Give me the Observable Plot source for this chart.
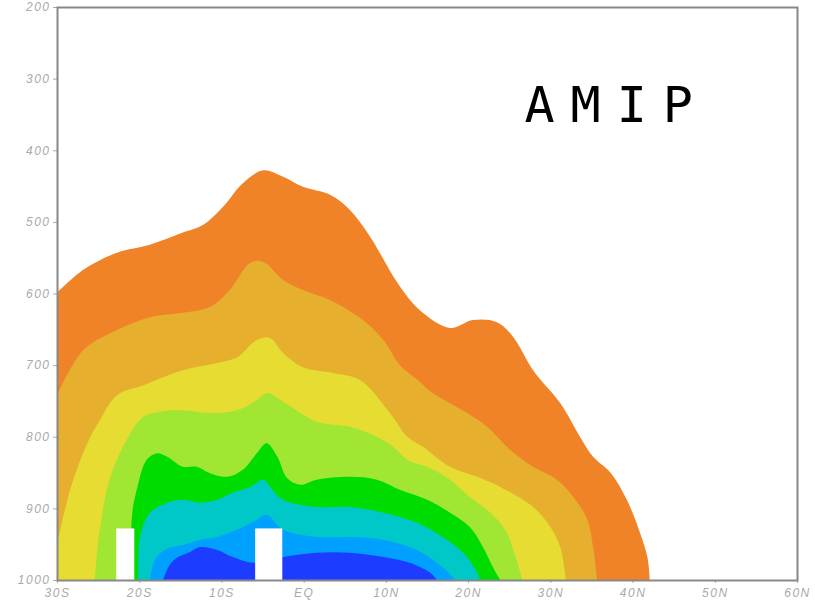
<!DOCTYPE html>
<html>
<head>
<meta charset="utf-8">
<script src="https://cdn.jsdelivr.net/npm/d3@7"></script>
<script src="https://cdn.jsdelivr.net/npm/@observablehq/plot@0.6"></script>
<style>
  html, body { margin: 0; padding: 0; background: #fff; }
  #chart svg g[aria-label="x-axis tick label"] text,
  #chart svg g[aria-label="y-axis tick label"] text { letter-spacing: 1.5px; }
  #chart svg .amip text { letter-spacing: 16px; }
</style>
</head>
<body>
<div id="chart"></div>
<script>
// Axis ticks
const latTicks = [-30, -20, -10, 0, 10, 20, 30, 40, 50, 60];
const latLabels = ["30S", "20S", "10S", "EQ", "10N", "20N", "30N", "40N", "50N", "60N"];
const pTicks = [200, 300, 400, 500, 600, 700, 800, 900, 1000];

// Upper boundary of each shaded level, [latitude, pressure hPa]
const orangeTop = [[-30,599],[-26.8,567],[-22.7,543],[-18.7,532],[-14.7,515],[-12.2,504],[-9.8,479],[-7.4,446],[-4.9,428],[-2.5,437],[-0.1,451],[3.2,462],[5.6,483],[8.1,521],[11.4,585],[14.1,623],[17.8,648],[20.6,637],[23.5,640],[25.5,661],[27.9,707],[31.2,753],[33.6,800],[35.2,828],[37.3,850],[39.3,888],[40.9,934],[41.8,968],[42.1,1000]];
const goldTop = [[-30,742],[-26.8,679],[-22.7,651],[-18.7,633],[-14.7,627],[-11.4,619],[-9,595],[-6.5,557],[-4.9,556],[-2.5,581],[-0.1,595],[3.2,609],[7.2,637],[9.7,665],[11.7,700],[13.8,720],[15.7,739],[19.9,767],[22.3,786],[25.1,818],[27.9,842],[30.8,860],[32.8,884],[34.5,916],[35.2,954],[35.7,1000]];
const yellowTop = [[-30,951],[-28.4,874],[-26.4,811],[-24.8,777],[-22.7,742],[-19.5,728],[-14.7,707],[-10.5,697],[-8.1,689],[-5.7,665],[-4.1,662],[-2.5,683],[-0.1,703],[3.6,711],[6.9,721],[10.5,767],[12.6,800],[14.5,814],[17.8,842],[21.1,856],[23.9,870],[27.9,898],[30,926],[31.2,954],[31.9,1000]];
const yelgreenTop = [[-25.4,1000],[-24.8,930],[-23.6,860],[-21.5,804],[-19.5,772],[-17.5,765],[-14.7,763],[-11.4,767],[-8.1,763],[-5.7,749],[-4.5,739],[-2.5,751],[1.6,779],[5.6,786],[8.9,800],[10.9,814],[12.6,832],[15,842],[17.8,860],[20.2,884],[22.7,906],[24.5,930],[25.7,965],[26.6,1000]];
const greenTop = [[-20.8,1000],[-21,944],[-20.8,902],[-20.3,874],[-19.1,832],[-17.8,823],[-16.6,828],[-14.7,842],[-13,842],[-11.4,851],[-9.3,856],[-7.4,846],[-5.7,823],[-4.5,809],[-3.2,828],[-2,858],[-0.4,867],[1.6,860],[5.6,856],[8.9,860],[11.7,874],[15,888],[17.8,906],[20.2,926],[21.8,954],[23,982],[23.9,1000]];
const cyanTop = [[-20.1,1000],[-19.9,940],[-18.7,906],[-16.6,892],[-14.7,888],[-12.6,892],[-10.5,888],[-8.6,878],[-6.5,870],[-4.9,860],[-4.1,870],[-2.5,888],[1.6,898],[5.6,898],[9.7,906],[13.8,920],[16.9,940],[19.4,962],[21.1,990],[21.4,1000]];
const lightblueTop = [[-18.7,1000],[-18.1,972],[-16.9,958],[-14.7,951],[-12.6,944],[-10.5,940],[-8.1,930],[-5.7,916],[-4.5,909],[-2.5,930],[1.6,940],[5.6,940],[9.7,944],[13.8,958],[16.2,976],[17.6,990],[18.4,1000]];
const blueTop = [[-17.1,1000],[-16.3,979],[-15.4,969],[-13.8,961],[-12.6,954],[-10.5,958],[-8.6,968],[-6.2,976],[-2.5,968],[1.6,962],[5.6,962],[9.7,968],[12.9,976],[15.4,990],[16.2,1000]];

// Masked (blank) columns: [lat1, lat2, top pressure]
const maskCols = [[-22.8, -20.6, 928], [-5.9, -2.6, 928]];

const levels = [
  {data: orangeTop, color: "#f08228"},
  {data: goldTop, color: "#e6af2d"},
  {data: yellowTop, color: "#e6dc32"},
  {data: yelgreenTop, color: "#a0e632"},
  {data: greenTop, color: "#00dc00"},
  {data: cyanTop, color: "#00c8c8"},
  {data: lightblueTop, color: "#00a0ff"},
  {data: blueTop, color: "#1e3cff"}
];

const areaMarks = levels.map(l => Plot.areaY(l.data, {
  x: d => d[0], y1: 1000, y2: d => d[1],
  curve: "catmull-rom", fill: l.color, clip: true
}));

const chart = Plot.plot({
  width: 815,
  height: 609,
  marginLeft: 57,
  marginRight: 18,
  marginTop: 7,
  marginBottom: 29,
  style: {fontFamily: "Liberation Sans, Arial, sans-serif", background: "#fff"},
  x: {domain: [-30, 60]},
  y: {domain: [200, 1000], reverse: true},
  marks: [
    ...areaMarks,
    Plot.rect(maskCols, {x1: d => d[0], x2: d => d[1], y1: d => d[2], y2: 1000, fill: "#fff"}),
    Plot.text(["AMIP"], {
      x: 26.8, y: 337, text: d => d, textAnchor: "start", lineAnchor: "middle",
      fontSize: 50, fontFamily: "DejaVu Sans Mono", fill: "#000", className: "amip"
    }),
    Plot.axisY(pTicks, {anchor: "left", tickSize: 4, tickPadding: 3, color: "#aaa",
      fontSize: 12, fontStyle: "italic", label: null, tickFormat: d => String(d)}),
    Plot.axisX(latTicks, {anchor: "bottom", tickSize: 3, tickPadding: 5, color: "#aaa",
      fontSize: 12, fontStyle: "italic", label: null,
      tickFormat: d => latLabels[latTicks.indexOf(d)]}),
    Plot.frame({stroke: "#888", strokeWidth: 2})
  ]
});
document.getElementById("chart").appendChild(chart);
</script>
</body>
</html>
